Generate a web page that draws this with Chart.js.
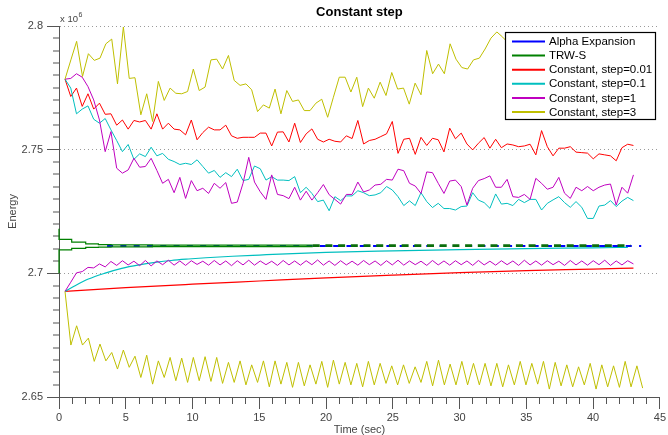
<!DOCTYPE html>
<html><head><meta charset="utf-8">
<script src="https://cdn.jsdelivr.net/npm/chart.js@4.4.0/dist/chart.umd.min.js"></script>
<style>html,body{margin:0;padding:0;background:#fff;}#wrap{width:668px;height:435px;}</style>
</head><body><div id="wrap"><canvas id="c" width="668" height="435"></canvas></div>
<script>
const FONT = '"Liberation Sans", Arial, Helvetica, sans-serif';
const chartTitle = 'Constant step';
const xTitle = 'Time (sec)';
const yTitle = 'Energy';
const legendLabels = ['Alpha Expansion', 'TRW-S', 'Constant, step=0.01', 'Constant, step=0.1', 'Constant, step=1', 'Constant, step=3'];

const timesRun = [0.45,0.88,1.31,1.74,2.17,2.60,3.03,3.46,3.89,4.32,
4.75,5.18,5.61,6.04,6.47,6.90,7.33,7.76,8.19,8.62,
9.05,9.48,9.91,10.34,10.77,11.20,11.63,12.06,12.49,12.92,
13.35,13.78,14.21,14.64,15.07,15.50,15.93,16.36,16.79,17.22,
17.65,18.08,18.51,18.94,19.37,19.80,20.23,20.66,21.09,21.52,
21.95,22.38,22.81,23.24,23.67,24.10,24.53,24.96,25.39,25.82,
26.25,26.68,27.11,27.54,27.97,28.40,28.83,29.26,29.69,30.12,
30.55,30.98,31.41,31.84,32.27,32.70,33.13,33.56,33.99,34.42,
34.85,35.28,35.71,36.14,36.57,37.00,37.43,37.86,38.29,38.72,
39.15,39.58,40.01,40.44,40.87,41.30,41.73,42.16,42.59,43.02];

const timesStep3 = [0.45,0.89,1.32,1.76,2.20,2.64,3.07,3.51,3.95,4.38,
4.82,5.26,5.69,6.13,6.57,7.01,7.44,7.88,8.32,8.75,
9.19,9.63,10.06,10.50,10.94,11.38,11.81,12.25,12.69,13.12,
13.56,14.00,14.43,14.87,15.31,15.75,16.18,16.62,17.06,17.49,
17.93,18.37,18.80,19.24,19.68,20.12,20.55,20.99,21.43,21.86,
22.30,22.74,23.17,23.61,24.05,24.49,24.92,25.36,25.80,26.23,
26.67,27.11,27.54,27.98,28.42,28.86,29.29,29.73,30.17,30.60,
31.04,31.48,31.91,32.35,32.79,33.23,33.66,34.10,34.54,34.97,
35.41,35.85,36.28,36.72,37.16,37.60,38.03,38.47,38.91,39.34,
39.78,40.22,40.65,41.09,41.53,41.97,42.40,42.84,43.28,43.71];

// Constant, step=0.01
const step001Primal = [2.7785,2.7715,2.7749,2.7675,2.7726,2.7664,2.7688,2.7643,2.7645,2.7599,
2.7620,2.7583,2.7618,2.7612,2.7618,2.7583,2.7645,2.7583,2.7607,2.7583,
2.7580,2.7560,2.7620,2.7540,2.7569,2.7591,2.7580,2.7580,2.7599,2.7556,
2.7546,2.7550,2.7550,2.7550,2.7567,2.7567,2.7515,2.7571,2.7572,2.7531,
2.7607,2.7529,2.7564,2.7584,2.7542,2.7531,2.7542,2.7534,2.7531,2.7556,
2.7545,2.7618,2.7523,2.7537,2.7542,2.7553,2.7564,2.7614,2.7485,2.7542,
2.7546,2.7481,2.7550,2.7517,2.7546,2.7540,2.7491,2.7587,2.7544,2.7567,
2.7523,2.7499,2.7526,2.7549,2.7506,2.7542,2.7508,2.7523,2.7519,2.7512,
2.7515,2.7522,2.7479,2.7577,2.7512,2.7475,2.7506,2.7506,2.7512,2.7490,
2.7488,2.7486,2.7463,2.7483,2.7479,2.7475,2.7455,2.7508,2.7522,2.7517];
const step001DualTimes = [0.45,5,10,15,20,25,30,35,40,43.02];
const step001Dual = [2.6927,2.6942,2.6956,2.6969,2.6982,2.6993,2.7003,2.7011,2.7017,2.7021];

// Constant, step=0.1
const step01Primal = [2.7785,2.7749,2.7645,2.7664,2.7677,2.7623,2.7607,2.7626,2.7580,2.7537,
2.7492,2.7521,2.7461,2.7483,2.7472,2.7510,2.7475,2.7485,2.7461,2.7452,
2.7440,2.7445,2.7440,2.7459,2.7432,2.7405,2.7416,2.7388,2.7407,2.7391,
2.7421,2.7375,2.7380,2.7434,2.7423,2.7377,2.7391,2.7377,2.7377,2.7375,
2.7391,2.7326,2.7348,2.7323,2.7290,2.7296,2.7253,2.7310,2.7294,2.7313,
2.7313,2.7334,2.7326,2.7314,2.7317,2.7326,2.7351,2.7337,2.7310,2.7274,
2.7293,2.7274,2.7326,2.7290,2.7266,2.7283,2.7262,2.7262,2.7256,2.7270,
2.7272,2.7326,2.7296,2.7286,2.7263,2.7321,2.7280,2.7283,2.7274,2.7299,
2.7286,2.7299,2.7299,2.7256,2.7283,2.7297,2.7310,2.7286,2.7267,2.7290,
2.7267,2.7222,2.7222,2.7272,2.7276,2.7294,2.7270,2.7292,2.7307,2.7294];
const step01DualTimes = [0.45,1.2,2.2,3.4,4.7,6,7.2,8.4,9.7,11,13,15,17.5,20,25,30,35,40,42.6];
const step01Dual = [2.6927,2.6950,2.6977,2.7000,2.7020,2.7034,2.7044,2.7052,2.7058,2.7063,2.7069,2.7074,2.7080,2.7085,2.7091,2.7096,2.7100,2.7103,2.7105];

// Constant, step=1
const step1Primal = [2.7785,2.7788,2.7807,2.7793,2.7755,2.7701,2.7620,2.7492,2.7573,2.7425,
2.7405,2.7418,2.7465,2.7429,2.7432,2.7465,2.7416,2.7364,2.7380,2.7326,
2.7388,2.7303,2.7375,2.7334,2.7344,2.7323,2.7364,2.7344,2.7367,2.7283,
2.7288,2.7364,2.7469,2.7369,2.7330,2.7299,2.7398,2.7319,2.7314,2.7302,
2.7348,2.7296,2.7332,2.7296,2.7326,2.7359,2.7318,2.7299,2.7280,2.7319,
2.7319,2.7369,2.7329,2.7337,2.7357,2.7360,2.7380,2.7377,2.7421,2.7415,
2.7364,2.7353,2.7323,2.7410,2.7407,2.7364,2.7323,2.7373,2.7377,2.7351,
2.7276,2.7344,2.7375,2.7383,2.7394,2.7348,2.7348,2.7380,2.7310,2.7307,
2.7319,2.7299,2.7384,2.7364,2.7340,2.7348,2.7388,2.7324,2.7303,2.7348,
2.7334,2.7351,2.7334,2.7348,2.7357,2.7361,2.7276,2.7348,2.7324,2.7398];
const step1Dual = [2.6927,2.6964,2.7002,2.7007,2.7024,2.7022,2.7038,2.7026,2.7048,2.7032,
2.7051,2.7034,2.7049,2.7031,2.7052,2.7030,2.7050,2.7035,2.7053,2.7033,
2.7050,2.7032,2.7051,2.7036,2.7049,2.7033,2.7052,2.7034,2.7050,2.7031,
2.7051,2.7034,2.7053,2.7033,2.7050,2.7035,2.7049,2.7032,2.7052,2.7034,
2.7050,2.7033,2.7051,2.7035,2.7054,2.7033,2.7050,2.7032,2.7051,2.7034,
2.7049,2.7033,2.7052,2.7035,2.7050,2.7032,2.7051,2.7034,2.7053,2.7033,
2.7050,2.7035,2.7049,2.7032,2.7052,2.7034,2.7050,2.7033,2.7051,2.7035,
2.7050,2.7032,2.7052,2.7034,2.7049,2.7033,2.7051,2.7035,2.7050,2.7032,
2.7053,2.7034,2.7050,2.7033,2.7051,2.7035,2.7049,2.7032,2.7052,2.7034,
2.7050,2.7033,2.7051,2.7035,2.7053,2.7032,2.7050,2.7034,2.7051,2.7038];

// Constant, step=3
const step3Primal = [2.7785,2.7863,2.7938,2.7796,2.7888,2.7861,2.7870,2.7928,2.7947,2.7766,
2.7996,2.7788,2.7791,2.7641,2.7726,2.7614,2.7776,2.7699,2.7749,2.7728,
2.7726,2.7735,2.7826,2.7739,2.7753,2.7863,2.7866,2.7826,2.7881,2.7780,
2.7760,2.7766,2.7742,2.7654,2.7681,2.7668,2.7745,2.7645,2.7739,2.7695,
2.7701,2.7658,2.7658,2.7688,2.7704,2.7631,2.7712,2.7793,2.7793,2.7733,
2.7793,2.7674,2.7749,2.7708,2.7773,2.7719,2.7812,2.7745,2.7749,2.7684,
2.7769,2.7722,2.7901,2.7807,2.7846,2.7807,2.7928,2.7866,2.7832,2.7826,
2.7863,2.7870,2.7907,2.7951,2.7976,2.7955,2.7930,2.7905,2.7942,2.7890,
2.7915,2.7872,2.7920,2.7898,2.7935,2.7880,2.7910,2.7925,2.7868,2.7902,
2.7930,2.7885,2.7912,2.7940,2.7895,2.7918,2.7876,2.7908,2.7932,2.7900];
const step3Dual = [2.6927,2.6710,2.6788,2.6710,2.6738,2.6644,2.6714,2.6646,2.6680,2.6613,
2.6690,2.6620,2.6665,2.6579,2.6669,2.6552,2.6646,2.6579,2.6660,2.6566,
2.6657,2.6559,2.6660,2.6566,2.6663,2.6563,2.6660,2.6555,2.6640,2.6559,
2.6646,2.6549,2.6630,2.6559,2.6646,2.6541,2.6646,2.6552,2.6640,2.6539,
2.6640,2.6545,2.6630,2.6552,2.6644,2.6539,2.6649,2.6552,2.6640,2.6549,
2.6636,2.6541,2.6644,2.6549,2.6636,2.6555,2.6626,2.6549,2.6630,2.6555,
2.6622,2.6559,2.6644,2.6545,2.6649,2.6549,2.6633,2.6549,2.6644,2.6549,
2.6636,2.6549,2.6636,2.6545,2.6636,2.6541,2.6630,2.6549,2.6644,2.6549,
2.6636,2.6552,2.6644,2.6532,2.6640,2.6545,2.6630,2.6541,2.6622,2.6549,
2.6636,2.6532,2.6630,2.6541,2.6626,2.6539,2.6644,2.6541,2.6626,2.6536];

// TRW-S (stepped bounds) and converged value
const trwsPrimalTimes = [0,0,0.95,2.0,2.95,3.9,5,7,10,14,19];
const trwsPrimal = [2.7180,2.7149,2.7137,2.7126,2.7119,2.7116,2.7115,2.7115,2.7114,2.7114,2.7114];
const trwsDualTimes = [0,0,0.95,2.0,2.95,3.9,5,7,10,14,19];
const trwsDual = [2.7000,2.7072,2.7095,2.7101,2.7105,2.7106,2.7107,2.7107,2.7108,2.7108,2.7108];
const trwsTailTimes = [19,42.8];
const trwsTail = [2.7112,2.7112];

// Alpha Expansion
const alphaTimes = [3.6,43.6];
const alphaEnergy = [2.7111,2.7111];

const yTicksMajor = [2.65, 2.7, 2.75, 2.8];
const xTicksMajor = [0,5,10,15,20,25,30,35,40,45];

function pts(xs, ys) {
  const n = Math.min(xs.length, ys.length);
  const out = [];
  for (let i = 0; i < n; i++) out.push({x: xs[i], y: ys[i]});
  return out;
}

const C_BLUE = '#0000ff', C_GREEN = '#008000', C_DKGREEN = '#0b6e0b', C_RED = '#ff0000',
      C_CYAN = '#00bfbf', C_MAG = '#bf00bf', C_YEL = '#bfbf00';

function ds(label, data, color, extra) {
  return Object.assign({
    label: label, data: data, borderColor: color, backgroundColor: color,
    borderWidth: 1, pointRadius: 0, fill: false, tension: 0, clip: 4
  }, extra || {});
}

const datasets = [
  ds(legendLabels[0], pts(alphaTimes, alphaEnergy), C_BLUE, {borderDash: [6, 7.3], borderWidth: 2, order: 7, inLegend: true}),
  ds(legendLabels[1], pts(trwsPrimalTimes, trwsPrimal), C_GREEN, {stepped: 'after', order: 6, inLegend: true, borderWidth: 1.2}),
  ds(legendLabels[1] + ' (lower bound)', pts(trwsDualTimes, trwsDual), C_GREEN, {stepped: 'after', order: 6, borderWidth: 1.2}),
  ds(legendLabels[1] + ' (converged)', pts(trwsTailTimes, trwsTail), C_DKGREEN, {borderDash: [7, 5.7], borderWidth: 2.6, order: 5}),
  ds(legendLabels[2], pts(timesRun, step001Primal), C_RED, {order: 4, inLegend: true}),
  ds(legendLabels[2] + ' (lower bound)', pts(step001DualTimes, step001Dual), C_RED, {order: 4, cubicInterpolationMode: 'monotone', borderWidth: 1.2}),
  ds(legendLabels[3], pts(timesRun, step01Primal), C_CYAN, {order: 3, inLegend: true}),
  ds(legendLabels[3] + ' (lower bound)', pts(step01DualTimes, step01Dual), C_CYAN, {order: 3, cubicInterpolationMode: 'monotone', borderWidth: 1.2}),
  ds(legendLabels[4], pts(timesRun, step1Primal), C_MAG, {order: 2, inLegend: true}),
  ds(legendLabels[4] + ' (lower bound)', pts(timesRun, step1Dual), C_MAG, {order: 2}),
  ds(legendLabels[5], pts(timesStep3, step3Primal), C_YEL, {order: 1, inLegend: true}),
  ds(legendLabels[5] + ' (lower bound)', pts(timesStep3, step3Dual), C_YEL, {order: 1})
];

function isMajorY(v) { const r = Math.round(v * 1000); return r % 50 === 0; }
function isMajorX(v) { return Math.round(v) % 5 === 0; }

const boxLegend = {
  id: 'boxLegend',
  afterDraw(chart) {
    const ctx = chart.ctx;
    const items = chart.data.datasets.filter(d => d.inLegend);
    const x0 = 505.5, y0 = 32.5, w = 150, h = 87;
    ctx.save();
    ctx.setLineDash([]);
    ctx.fillStyle = '#ffffff';
    ctx.fillRect(x0, y0, w, h);
    ctx.strokeStyle = '#000000';
    ctx.lineWidth = 1.2;
    ctx.strokeRect(x0, y0, w, h);
    ctx.font = '11.5px ' + FONT;
    ctx.textBaseline = 'middle';
    ctx.textAlign = 'left';
    items.forEach((d, i) => {
      const y = 41.5 + i * 14.1;
      ctx.strokeStyle = d.borderColor;
      ctx.lineWidth = 2;
      ctx.beginPath(); ctx.moveTo(512, y); ctx.lineTo(545, y); ctx.stroke();
      ctx.fillStyle = '#000';
      ctx.fillText(d.label, 549, y + 0.5);
    });
    // axis exponent
    ctx.fillStyle = '#444';
    ctx.textBaseline = 'alphabetic';
    ctx.font = '9.5px ' + FONT;
    ctx.fillText('x 10', 60, 21.5);
    ctx.font = '7px ' + FONT;
    ctx.fillText('6', 78.5, 16.5);
    ctx.restore();
  }
};

new Chart(document.getElementById('c').getContext('2d'), {
  type: 'line',
  data: { datasets: datasets },
  options: {
    responsive: false,
    animation: false,
    devicePixelRatio: 1,
    layout: { padding: { left: 0, right: 8, top: 0, bottom: 0 } },
    plugins: {
      legend: { display: false },
      tooltip: { enabled: false },
      title: {
        display: true, text: chartTitle, fullSize: false, color: '#000',
        font: { family: FONT, size: 13, weight: 'bold', lineHeight: 1.2 },
        padding: { top: 4.7, bottom: 5.7 }
      }
    },
    scales: {
      x: {
        type: 'linear', min: 0, max: 45,
        afterFit(s) { s.height = 38; },
        ticks: {
          stepSize: 1, autoSkip: false, maxRotation: 0, minRotation: 0, padding: 2,
          color: '#444', font: { family: FONT, size: 11 },
          callback: (v) => isMajorX(v) && xTicksMajor.includes(Math.round(v)) ? String(Math.round(v)) : ''
        },
        grid: {
          drawOnChartArea: false, drawTicks: true, tickLength: 12, tickColor: '#555', tickWidth: 1,
          color: 'rgba(0,0,0,0)',
          tickBorderDash: (c) => (c.tick && isMajorX(c.tick.value)) ? [] : [6, 6],
          tickBorderDashOffset: 0
        },
        border: { display: true, color: '#555', width: 1 },
        title: { display: true, text: xTitle, color: '#444', font: { family: FONT, size: 11, lineHeight: 1 }, padding: { top: 0, bottom: 0 } }
      },
      y: {
        type: 'linear', min: 2.65, max: 2.8,
        afterFit(s) { s.width = 59; },
        ticks: {
          stepSize: 0.005, autoSkip: false, padding: 4,
          color: '#444', font: { family: FONT, size: 11 },
          callback: (v) => {
            const r = Math.round(v * 1000);
            return (r % 50 === 0 && yTicksMajor.some(t => Math.abs(t - r / 1000) < 1e-9)) ? String(r / 1000) : '';
          }
        },
        grid: {
          drawOnChartArea: true, drawTicks: true, tickLength: 12, tickColor: '#555', tickWidth: 1,
          color: (c) => (c.tick && isMajorY(c.tick.value)) ? '#9a9a9a' : 'rgba(0,0,0,0)',
          lineWidth: (c) => (c.tick && isMajorY(c.tick.value)) ? 1 : 0,
          borderDash: [1, 3],
          tickBorderDash: (c) => (c.tick && isMajorY(c.tick.value)) ? [] : [6, 6],
          tickBorderDashOffset: (c) => (c.tick && isMajorY(c.tick.value)) ? 0 : 6
        },
        border: { display: true, color: '#555', width: 1, dash: [1, 3] },
        title: { display: true, text: yTitle, color: '#444', font: { family: FONT, size: 11, lineHeight: 1 }, padding: { top: 7.5, bottom: 0 } }
      }
    }
  },
  plugins: [boxLegend]
});
</script>
</body></html>
